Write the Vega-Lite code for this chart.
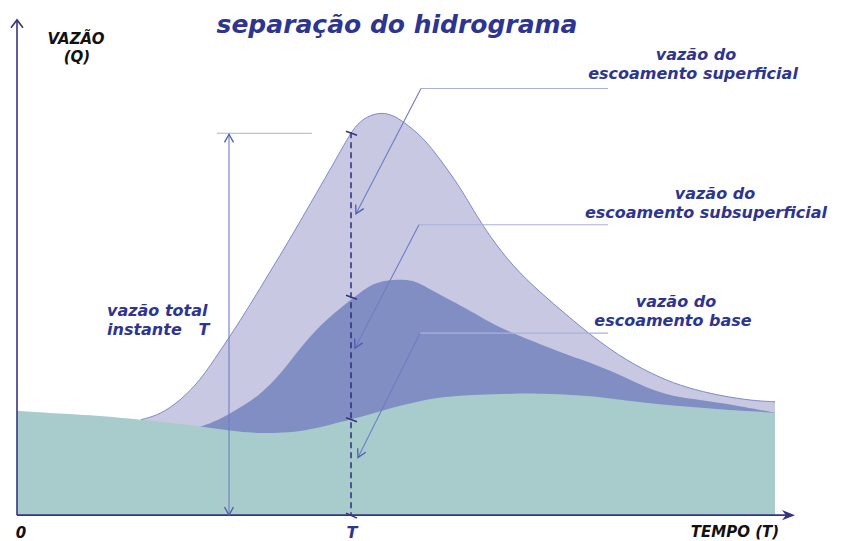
{
  "$schema": "https://vega.github.io/schema/vega-lite/v6.json",
  "width": 842,
  "height": 541,
  "autosize": {"type": "fit", "contains": "padding"},
  "padding": 0,
  "background": "white",
  "config": {"view": {"stroke": null}},
  "datasets": {
    "flow": [
      {"s": "total", "t": 124, "q": 96}, {"s": "total", "t": 143, "q": 101}, {"s": "total", "t": 163, "q": 115},
      {"s": "total", "t": 183, "q": 135}, {"s": "total", "t": 203, "q": 165}, {"s": "total", "t": 223, "q": 195},
      {"s": "total", "t": 243, "q": 228}, {"s": "total", "t": 263, "q": 261}, {"s": "total", "t": 283, "q": 295},
      {"s": "total", "t": 303, "q": 330}, {"s": "total", "t": 323, "q": 365}, {"s": "total", "t": 334, "q": 385},
      {"s": "total", "t": 343, "q": 396}, {"s": "total", "t": 353, "q": 402}, {"s": "total", "t": 365, "q": 405},
      {"s": "total", "t": 376, "q": 402}, {"s": "total", "t": 386, "q": 396}, {"s": "total", "t": 406, "q": 380},
      {"s": "total", "t": 423, "q": 358}, {"s": "total", "t": 443, "q": 330}, {"s": "total", "t": 456, "q": 307},
      {"s": "total", "t": 473, "q": 280}, {"s": "total", "t": 496, "q": 250}, {"s": "total", "t": 523, "q": 224},
      {"s": "total", "t": 550, "q": 201}, {"s": "total", "t": 576, "q": 179}, {"s": "total", "t": 610, "q": 155},
      {"s": "total", "t": 643, "q": 138}, {"s": "total", "t": 670, "q": 128}, {"s": "total", "t": 703, "q": 120},
      {"s": "total", "t": 736, "q": 115}, {"s": "total", "t": 758, "q": 114},
      {"s": "sub", "t": 181, "q": 88}, {"s": "sub", "t": 203, "q": 96}, {"s": "sub", "t": 223, "q": 108},
      {"s": "sub", "t": 243, "q": 121}, {"s": "sub", "t": 263, "q": 141}, {"s": "sub", "t": 283, "q": 168},
      {"s": "sub", "t": 303, "q": 191}, {"s": "sub", "t": 323, "q": 208}, {"s": "sub", "t": 336, "q": 218},
      {"s": "sub", "t": 356, "q": 234}, {"s": "sub", "t": 376, "q": 237}, {"s": "sub", "t": 396, "q": 237},
      {"s": "sub", "t": 413, "q": 227}, {"s": "sub", "t": 430, "q": 218}, {"s": "sub", "t": 443, "q": 211},
      {"s": "sub", "t": 463, "q": 200}, {"s": "sub", "t": 483, "q": 188}, {"s": "sub", "t": 516, "q": 175},
      {"s": "sub", "t": 550, "q": 161}, {"s": "sub", "t": 580, "q": 151}, {"s": "sub", "t": 610, "q": 138},
      {"s": "sub", "t": 636, "q": 125}, {"s": "sub", "t": 663, "q": 118}, {"s": "sub", "t": 690, "q": 115},
      {"s": "sub", "t": 716, "q": 111}, {"s": "sub", "t": 758, "q": 103},
      {"s": "base", "t": 0, "q": 105}, {"s": "base", "t": 43, "q": 102}, {"s": "base", "t": 83, "q": 100},
      {"s": "base", "t": 123, "q": 96}, {"s": "base", "t": 153, "q": 93}, {"s": "base", "t": 183, "q": 89},
      {"s": "base", "t": 213, "q": 85}, {"s": "base", "t": 243, "q": 82}, {"s": "base", "t": 273, "q": 83},
      {"s": "base", "t": 293, "q": 86}, {"s": "base", "t": 313, "q": 91}, {"s": "base", "t": 334, "q": 96},
      {"s": "base", "t": 358, "q": 103}, {"s": "base", "t": 383, "q": 110}, {"s": "base", "t": 403, "q": 115},
      {"s": "base", "t": 428, "q": 119}, {"s": "base", "t": 456, "q": 121}, {"s": "base", "t": 523, "q": 123},
      {"s": "base", "t": 573, "q": 120}, {"s": "base", "t": 610, "q": 115}, {"s": "base", "t": 656, "q": 110},
      {"s": "base", "t": 706, "q": 106}, {"s": "base", "t": 758, "q": 103}
    ],
    "segments": [
      {"k": "lh", "t": 404, "q": 429, "t2": 591, "q2": 429},
      {"k": "lh", "t": 402, "q": 292, "t2": 591, "q2": 292},
      {"k": "lh", "t": 403, "q": 183, "t2": 591, "q2": 183},
      {"k": "lh", "t": 200, "q": 384, "t2": 295, "q2": 384},
      {"k": "ld", "t": 404, "q": 429, "t2": 339, "q2": 303},
      {"k": "ld", "t": 402, "q": 292, "t2": 338, "q2": 168},
      {"k": "ld", "t": 403, "q": 183, "t2": 341, "q2": 58},
      {"k": "ld", "t": 212, "q": 383, "t2": 212, "q2": 0},
      {"k": "dash", "t": 334, "q": 385, "t2": 334, "q2": 0},
      {"k": "tick", "t": 329, "q": 386, "t2": 340, "q2": 382},
      {"k": "tick", "t": 329, "q": 221, "t2": 340, "q2": 217},
      {"k": "tick", "t": 329, "q": 98, "t2": 340, "q2": 94},
      {"k": "tick", "t": 329, "q": 2, "t2": 340, "q2": -3},
      {"k": "axis", "t": 0, "q": 0, "t2": 0, "q2": 497},
      {"k": "axis", "t": 0, "q": 0, "t2": 775, "q2": 0}
    ],
    "heads": [
      {"k": "lead", "t": 339, "q": 303},
      {"k": "lead", "t": 338, "q": 168},
      {"k": "lead", "t": 341, "q": 58},
      {"k": "up", "t": 212, "q": 383},
      {"k": "down", "t": 212, "q": 0},
      {"k": "yaxis", "t": 0, "q": 498},
      {"k": "xaxis", "t": 778, "q": 0}
    ],
    "labels": [
      {"k": "title", "text": "separação do hidrograma", "t": 380, "q": 485},
      {"k": "axisname", "text": "VAZÃO", "t": 59, "q": 474},
      {"k": "axisname", "text": "(Q)", "t": 60, "q": 456},
      {"k": "axisname", "text": "TEMPO (T)", "t": 718, "q": -22},
      {"k": "axisname", "text": "0", "t": 4, "q": -23},
      {"k": "note", "text": "vazão do", "t": 679, "q": 458},
      {"k": "note", "text": "escoamento superficial", "t": 676, "q": 439},
      {"k": "note", "text": "vazão do", "t": 698, "q": 318},
      {"k": "note", "text": "escoamento subsuperficial", "t": 689, "q": 299},
      {"k": "note", "text": "vazão do", "t": 659, "q": 209},
      {"k": "note", "text": "escoamento base", "t": 656, "q": 190},
      {"k": "note", "text": "T", "t": 335, "q": -23},
      {"k": "left", "text": "vazão total", "t": 90, "q": 200},
      {"k": "left", "text": "instante\u00a0\u00a0\u00a0T", "t": 90, "q": 181}
    ]
  },
  "encoding": {
    "x": {"field": "t", "type": "quantitative", "axis": null, "scale": {"domain": [-17, 825], "nice": false, "zero": false}},
    "y": {"field": "q", "type": "quantitative", "axis": null, "scale": {"domain": [-23, 518], "nice": false, "zero": false}}
  },
  "layer": [
    {
      "data": {"name": "flow"},
      "transform": [{"filter": "datum.s === 'total'"}],
      "mark": {"type": "area", "color": "#c8c8e2", "opacity": 1, "interpolate": "basis", "line": {"color": "#7f8ac6", "strokeWidth": 1, "interpolate": "basis"}}
    },
    {
      "data": {"name": "flow"},
      "transform": [{"filter": "datum.s === 'sub'"}],
      "mark": {"type": "area", "color": "#808ec4", "opacity": 1, "interpolate": "basis"}
    },
    {
      "data": {"name": "flow"},
      "transform": [{"filter": "datum.s === 'base'"}],
      "mark": {"type": "area", "color": "#a8cccc", "opacity": 1, "interpolate": "basis"}
    },
    {
      "data": {"name": "segments"},
      "transform": [{"filter": "datum.k === 'lh'"}],
      "mark": {"type": "rule", "color": "#a9b1dd", "strokeWidth": 1.2},
      "encoding": {"x2": {"field": "t2"}, "y2": {"field": "q2"}}
    },
    {
      "data": {"name": "segments"},
      "transform": [{"filter": "datum.k === 'ld'"}],
      "mark": {"type": "rule", "color": "#6f7cc4", "strokeWidth": 1.1},
      "encoding": {"x2": {"field": "t2"}, "y2": {"field": "q2"}}
    },
    {
      "data": {"name": "segments"},
      "transform": [{"filter": "datum.k === 'dash'"}],
      "mark": {"type": "rule", "color": "#2d2d7d", "strokeWidth": 1.5, "strokeDash": [6, 4]},
      "encoding": {"x2": {"field": "t2"}, "y2": {"field": "q2"}}
    },
    {
      "data": {"name": "segments"},
      "transform": [{"filter": "datum.k === 'tick' || datum.k === 'axis'"}],
      "mark": {"type": "rule", "color": "#35357f", "strokeWidth": 1.6},
      "encoding": {"x2": {"field": "t2"}, "y2": {"field": "q2"}}
    },
    {
      "data": {"name": "heads"},
      "transform": [{"filter": "datum.k === 'lead'"}],
      "mark": {"type": "point", "shape": "M-1,1.8L0,0L1,1.8", "filled": false, "stroke": "#4e5cb0", "strokeWidth": 1.3, "size": 81, "angle": 207, "opacity": 1}
    },
    {
      "data": {"name": "heads"},
      "transform": [{"filter": "datum.k === 'up'"}],
      "mark": {"type": "point", "shape": "M-1,1.8L0,0L1,1.8", "filled": false, "stroke": "#4e5cb0", "strokeWidth": 1.3, "size": 81, "angle": 0, "opacity": 1}
    },
    {
      "data": {"name": "heads"},
      "transform": [{"filter": "datum.k === 'down'"}],
      "mark": {"type": "point", "shape": "M-1,1.8L0,0L1,1.8", "filled": false, "stroke": "#4e5cb0", "strokeWidth": 1.3, "size": 81, "angle": 180, "opacity": 1}
    },
    {
      "data": {"name": "heads"},
      "transform": [{"filter": "datum.k === 'yaxis'"}],
      "mark": {"type": "point", "shape": "M-1,1.3L0,0L1,1.3", "filled": false, "stroke": "#35357f", "strokeWidth": 1.6, "size": 144, "angle": 0, "opacity": 1}
    },
    {
      "data": {"name": "heads"},
      "transform": [{"filter": "datum.k === 'xaxis'"}],
      "mark": {"type": "point", "shape": "M0,0L0.8,2L0,1.4L-0.8,2Z", "filled": true, "color": "#35357f", "size": 169, "angle": 90, "opacity": 1}
    },
    {
      "data": {"name": "labels"},
      "transform": [{"filter": "datum.k === 'title'"}],
      "mark": {"type": "text", "font": "DejaVu Sans", "fontWeight": "bold", "fontStyle": "italic", "fontSize": 25, "color": "#2e3590", "align": "center", "baseline": "alphabetic"},
      "encoding": {"text": {"field": "text"}}
    },
    {
      "data": {"name": "labels"},
      "transform": [{"filter": "datum.k === 'axisname'"}],
      "mark": {"type": "text", "font": "DejaVu Sans", "fontWeight": "bold", "fontStyle": "italic", "fontSize": 15, "color": "#111111", "align": "center", "baseline": "alphabetic"},
      "encoding": {"text": {"field": "text"}}
    },
    {
      "data": {"name": "labels"},
      "transform": [{"filter": "datum.k === 'note'"}],
      "mark": {"type": "text", "font": "DejaVu Sans", "fontWeight": "bold", "fontStyle": "italic", "fontSize": 16, "color": "#2e3590", "align": "center", "baseline": "alphabetic"},
      "encoding": {"text": {"field": "text"}}
    },
    {
      "data": {"name": "labels"},
      "transform": [{"filter": "datum.k === 'left'"}],
      "mark": {"type": "text", "font": "DejaVu Sans", "fontWeight": "bold", "fontStyle": "italic", "fontSize": 16, "color": "#2e3590", "align": "left", "baseline": "alphabetic"},
      "encoding": {"text": {"field": "text"}}
    }
  ]
}
